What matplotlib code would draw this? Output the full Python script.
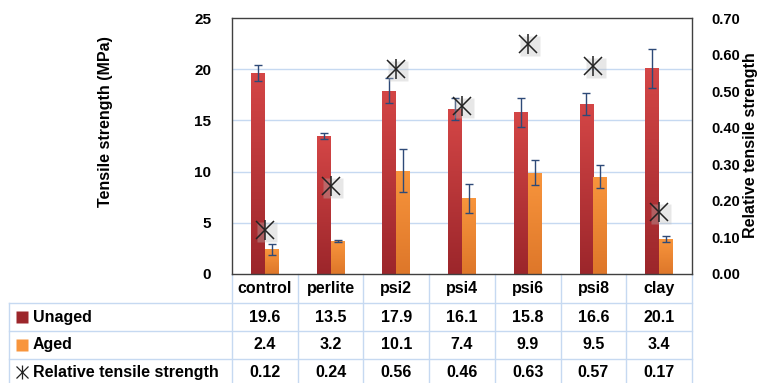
import numpy as np
import matplotlib
matplotlib.use("Agg")
import matplotlib.pyplot as plt
import matplotlib.transforms as mtransforms
from matplotlib.colors import LinearSegmentedColormap

plt.rcParams["font.family"] = ["Liberation Sans", "DejaVu Sans"]
plt.rcParams["font.weight"] = "bold"

categories = ["control", "perlite", "psi2", "psi4", "psi6", "psi8", "clay"]
unaged = [19.6, 13.5, 17.9, 16.1, 15.8, 16.6, 20.1]
unaged_err = [0.8, 0.3, 1.2, 1.1, 1.4, 1.1, 1.9]
aged = [2.4, 3.2, 10.1, 7.4, 9.9, 9.5, 3.4]
aged_err = [0.5, 0.1, 2.1, 1.4, 1.2, 1.1, 0.3]
relative = [0.12, 0.24, 0.56, 0.46, 0.63, 0.57, 0.17]
row_names = ["Unaged", "Aged", "Relative tensile strength"]

RED_TOP, RED_BOT = "#D44646", "#9C262B"
ORA_TOP, ORA_BOT = "#F8953C", "#DE772A"
GRID = "#C6D9F1"
ERR = "#2E4A78"

fig = plt.figure(figsize=(7.62, 3.83), dpi=100)
ax = fig.add_axes([0.3045, 0.2846, 0.6037, 0.6684])
x = np.arange(len(categories))
w = 0.2125


def gradient_bars(bars, top, bottom):
    cmap = LinearSegmentedColormap.from_list("g", [bottom, top])
    grad = np.linspace(0, 1, 64).reshape(-1, 1)
    for b in bars:
        x0, y0 = b.get_x(), b.get_y()
        im = ax.imshow(grad, cmap=cmap, aspect="auto", origin="lower",
                       extent=[x0, x0 + b.get_width(), y0, y0 + b.get_height()],
                       zorder=2)
        im.set_clip_path(b)


b1 = ax.bar(x - w / 2, unaged, w, color=RED_TOP, zorder=2)
b2 = ax.bar(x + w / 2, aged, w, color=ORA_TOP, zorder=2)
gradient_bars(b1, RED_TOP, RED_BOT)
gradient_bars(b2, ORA_TOP, ORA_BOT)
ax.errorbar(x - w / 2, unaged, yerr=unaged_err, fmt="none", ecolor=ERR,
            elinewidth=1, capsize=3, capthick=1, zorder=3)
ax.errorbar(x + w / 2, aged, yerr=aged_err, fmt="none", ecolor=ERR,
            elinewidth=1, capsize=3, capthick=1, zorder=3)

ax.set_xlim(-0.5, len(categories) - 0.5)
ax.set_ylim(0, 25)
ax.set_yticks([0, 5, 10, 15, 20, 25])
ax.set_xticks([])
for v in [5, 10, 15, 20]:
    ax.axhline(v, color=GRID, lw=1, zorder=1)
ax.tick_params(axis="y", length=0, pad=15, labelsize=11)
for s in ax.spines.values():
    s.set_color("#404040")
    s.set_linewidth(1)
ax.set_ylabel("Tensile strength (MPa)", fontsize=11.5, fontweight="bold")
ax.yaxis.set_label_coords(-0.259, 0.594)

ax2 = ax.twinx()
ax2.set_ylim(0, 0.70)
ax2.set_yticks(np.arange(0, 0.71, 0.1))
ax2.set_yticklabels([f"{t:.2f}" for t in np.arange(0, 0.71, 0.1)])
ax2.tick_params(axis="y", length=0, pad=14, labelsize=10.5)
for s in ax2.spines.values():
    s.set_visible(False)
ax2.set_ylabel("Relative tensile strength", fontsize=11.5, fontweight="bold")
ax2.yaxis.set_label_coords(1.111, 0.504)

# shadow + marker (x with vertical bar)
shadow = mtransforms.offset_copy(ax2.transData, fig=fig, x=1.5, y=-1.5, units="points")
ax2.plot(x, relative, ls="none", marker="s", ms=15, color="#BBBBBB", alpha=0.35,
         mec="none", transform=shadow, zorder=4)
ax2.plot(x, relative, ls="none", marker="x", ms=13, mew=1.1, color="#222222", zorder=5)
ax2.plot(x, relative, ls="none", marker="|", ms=15, mew=1.1, color="#222222", zorder=5)

# data table below the plot
blend = mtransforms.blended_transform_factory(ax.transData, ax.transAxes)
row_lines = [-0.1133, -0.2227, -0.332, -0.4258]
row_centers = [-0.168, -0.277, -0.383]
left_edge = -0.485
kw = dict(color=GRID, lw=1, clip_on=False, zorder=0)
for yl in row_lines[:-1]:
    ax.plot([left_edge, 1], [yl, yl], transform=ax.transAxes, **kw)
ax.plot([left_edge, left_edge], [row_lines[0], row_lines[-1]],
        transform=ax.transAxes, **kw)
for xb in np.arange(-0.5, len(categories)):
    ax.plot([xb, xb], [0, row_lines[-1]], transform=blend, **kw)

for i, c in enumerate(categories):
    ax.text(i, -0.058, c, transform=blend, ha="center", va="center",
            fontsize=11.5, fontweight="bold")
for vals, yc, fmt in zip([unaged, aged, relative], row_centers,
                         ["{:.1f}", "{:.1f}", "{:.2f}"]):
    for i, v in enumerate(vals):
        ax.text(i, yc, fmt.format(v), transform=blend, ha="center", va="center",
                fontsize=11.5, fontweight="bold")

key_x = -0.457
ax.plot([key_x], [row_centers[0]], marker="s", ms=8, color=RED_BOT, mec="none",
        transform=ax.transAxes, clip_on=False)
ax.plot([key_x], [row_centers[1]], marker="s", ms=8, color=ORA_TOP, mec="none",
        transform=ax.transAxes, clip_on=False)
ax.plot([key_x], [row_centers[2]], marker="x", ms=8, mew=0.9, color="#222222",
        transform=ax.transAxes, clip_on=False)
ax.plot([key_x], [row_centers[2]], marker="|", ms=10, mew=0.9, color="#222222",
        transform=ax.transAxes, clip_on=False)
for name, yc in zip(row_names, row_centers):
    ax.text(-0.433, yc, name, transform=ax.transAxes, ha="left", va="center",
            fontsize=11.5, fontweight="bold")

fig.savefig("out.png", dpi=100)
